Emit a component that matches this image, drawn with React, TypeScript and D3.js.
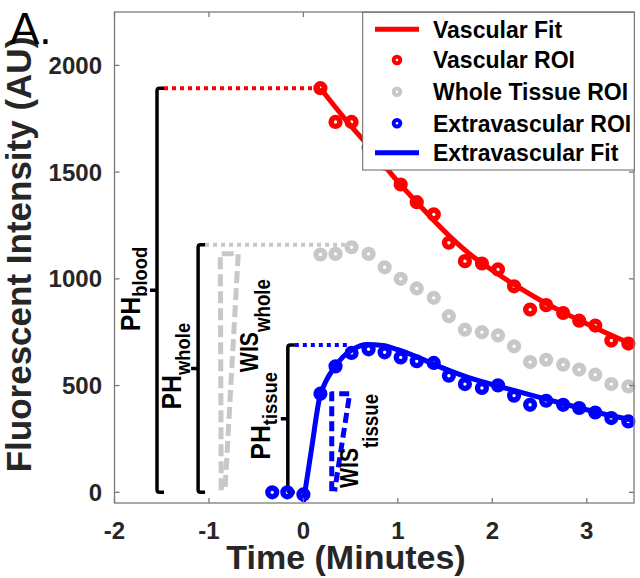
import React from "react";
import * as d3 from "d3";

// Sample times (minutes) shared by the three ROI series
const sampleTimes = [
  -0.33, -0.17, 0.0, 0.18, 0.34, 0.51, 0.69, 0.86, 1.03, 1.2, 1.38, 1.54, 1.71,
  1.89, 2.06, 2.23, 2.4, 2.57, 2.75, 2.92, 3.09, 3.26, 3.44,
];

// Vascular and whole-tissue ROIs start at sampleTimes[3]
const vascularROI = [
  1893, 1735, 1735, 1615, 1540, 1442, 1359, 1302, 1169, 1083, 1072, 1044, 965,
  856, 877, 840, 804, 781, 711, 697,
];
const wholeTissueROI = [
  1114, 1117, 1148, 1117, 1054, 1000, 955, 911, 825, 762, 750, 735, 684, 610,
  621, 598, 575, 551, 507, 496,
];
const extravascularROI = [
  0, 0, -10, 462, 590, 653, 670, 656, 632, 614, 606, 546, 507, 489, 501, 453,
  410, 429, 410, 395, 374, 348, 332,
];

// Fitted curves
const vascularFitTimes = [0.18, 0.42, 0.75, 1.0, 1.25, 1.5, 1.75, 2.0, 2.25, 2.5, 2.75, 3.0, 3.25, 3.5];
const vascularFitValues = [1893, 1760, 1590, 1455, 1335, 1220, 1120, 1040, 968, 902, 843, 790, 738, 690];
const extravascularFitTimes = [
  0, 0.085, 0.17, 0.25, 0.32, 0.42, 0.52, 0.67, 0.84, 1.0, 1.25, 1.5, 1.75, 2.0,
  2.25, 2.5, 2.75, 3.0, 3.25, 3.5,
];
const extravascularFitValues = [
  -45, 200, 440, 530, 580, 635, 668, 692, 688, 668, 625, 578, 537, 505, 475,
  445, 415, 387, 360, 337,
];

// Peak-height brackets (PH): subscript, x position, peak value, end of reference line
const phNames = ["blood", "whole", "tissue"];
const phX = [-1.55, -1.115, -0.165];
const phPeak = [1893, 1160, 690];
const phLineEnd = [0.18, 0.45, 0.49];

// Wash-in slope (WIS) wedges and their label anchors
const wisNames = ["whole", "tissue"];
const wisWedges: [number, number][][] = [
  [[-0.87, 10], [-0.88, 1118], [-0.69, 1118], [-0.83, 10]],
  [[0.3, 5], [0.3, 462], [0.49, 462], [0.33, 5]],
];
const wisLabelAt: [number, number][] = [[-0.483, 563], [0.574, 20]];
const wisSubShift = [12, 20];

const xTicks = [-2, -1, 0, 1, 2, 3];
const yTicks = [0, 500, 1000, 1500, 2000];

const legendItems = [
  { label: "Vascular Fit", kind: "line", color: "#ff0000" },
  { label: "Vascular ROI", kind: "marker", color: "#ff0000" },
  { label: "Whole Tissue ROI", kind: "marker", color: "#c8c8c8" },
  { label: "Extravascular ROI", kind: "marker", color: "#0000ff" },
  { label: "Extravascular Fit", kind: "line", color: "#0000ff" },
];

const FONT = "'Liberation Sans', Arial, Helvetica, sans-serif";
const RED = "#ff0000";
const GRAY = "#c8c8c8";
const BLUE = "#0000ff";
const AXIS = "#262626";

export default function App() {
  const left = 114.5, right = 634, top = 12, bottom = 503;
  const x = d3.scaleLinear().domain([-2, 3.5]).range([left, right]);
  const y = d3.scaleLinear().domain([-50, 2250]).range([bottom, top]);

  const smooth = d3
    .line<[number, number]>()
    .x((d) => x(d[0]))
    .y((d) => y(d[1]))
    .curve(d3.curveMonotoneX);
  const straight = d3
    .line<[number, number]>()
    .x((d) => x(d[0]))
    .y((d) => y(d[1]));

  const vascularFit = vascularFitTimes.map((t, i) => [t, vascularFitValues[i]] as [number, number]);
  const extraFit = extravascularFitTimes.map((t, i) => [t, extravascularFitValues[i]] as [number, number]);

  const markers = (vals: number[], offset: number, color: string) =>
    vals.map((v, i) => (
      <circle
        key={i}
        cx={x(sampleTimes[i + offset])}
        cy={y(v)}
        r={4.4}
        fill="none"
        stroke={color}
        strokeWidth={5.4}
      />
    ));

  const legendX0 = 362.7, legendY0 = 12.3, legendX1 = 634.3, legendY1 = 170;
  const legendRows = [29.3, 60, 91.7, 123.3, 152.7];

  return (
    <svg
      width={640}
      height={578}
      style={{ position: "absolute", left: 0, top: 0, display: "block", background: "#fff" }}
      fontFamily={FONT}
    >
      <defs>
        <clipPath id="plotArea">
          <rect x={left} y={top} width={right - left} height={bottom - top} />
        </clipPath>
      </defs>
      <rect x={0} y={0} width={640} height={578} fill="#fff" />

      {/* peak-height brackets and their reference lines */}
      {phNames.map((name, i) => {
        const bx = x(phX[i]);
        const yt = y(phPeak[i]);
        const yb = y(0);
        const ym = y(phPeak[i] / 2);
        const hook = 7;
        const lineColor = i === 0 ? RED : i === 1 ? GRAY : BLUE;
        return (
          <g key={name}>
            <line
              x1={bx + hook}
              x2={x(phLineEnd[i])}
              y1={yt}
              y2={yt}
              stroke={lineColor}
              strokeWidth={4}
              strokeDasharray="4 4"
            />
            <path
              d={`M${bx + hook},${yt} L${bx + 2.5},${yt} Q${bx},${yt} ${bx},${yt + 2.5} L${bx},${yb - 2.5} Q${bx},${yb} ${bx + 2.5},${yb} L${bx + hook},${yb} M${bx},${ym} L${bx - 7},${ym}`}
              fill="none"
              stroke="#000"
              strokeWidth={3.5}
            />
            <text
              transform={`translate(${bx - 17.5},${ym + 41}) rotate(-90) scale(0.92,1)`}
              fontWeight="bold"
              fill="#000"
            >
              <tspan fontSize={27}>PH</tspan>
              <tspan fontSize={20} dy={i === 1 ? 9 : 7}>
                {name}
              </tspan>
            </text>
          </g>
        );
      })}

      {/* wash-in slope wedges */}
      {wisWedges.map((pts, i) => (
        <path
          key={i}
          d={straight(pts) || ""}
          fill="none"
          stroke={i === 0 ? GRAY : BLUE}
          strokeWidth={5}
          strokeDasharray={i === 0 ? "12 5" : "10 5"}
          strokeLinejoin="round"
        />
      ))}
      {wisNames.map((name, i) => (
        <text
          key={name}
          transform={`translate(${x(wisLabelAt[i][0])},${y(wisLabelAt[i][1])}) rotate(-90) scale(0.85,1)`}
          fontWeight="bold"
          fill="#000"
        >
          <tspan fontSize={25}>WIS</tspan>
          <tspan fontSize={22} dy={wisSubShift[i]}>
            {name}
          </tspan>
        </text>
      ))}

      {/* ROI samples */}
      <g>{markers(vascularROI, 3, RED)}</g>
      <g>{markers(wholeTissueROI, 3, GRAY)}</g>
      <g>{markers(extravascularROI, 0, BLUE)}</g>

      {/* fits */}
      <g clipPath="url(#plotArea)">
        <path d={smooth(vascularFit) || ""} fill="none" stroke={RED} strokeWidth={5} strokeLinejoin="round" />
        <path d={smooth(extraFit) || ""} fill="none" stroke={BLUE} strokeWidth={5} strokeLinejoin="round" />
      </g>

      {/* axes box and ticks */}
      <rect x={left} y={top} width={right - left} height={bottom - top} fill="none" stroke="#7a7a7a" strokeWidth={1.3} />
      {xTicks.map((t) => (
        <g key={`xt${t}`}>
          <line x1={x(t)} x2={x(t)} y1={bottom} y2={bottom - 5} stroke="#7a7a7a" strokeWidth={1.3} />
          <line x1={x(t)} x2={x(t)} y1={top} y2={top + 5} stroke="#7a7a7a" strokeWidth={1.3} />
          <text x={x(t)} y={539} textAnchor="middle" fontSize={24} fontWeight="bold" fill={AXIS}>
            {t}
          </text>
        </g>
      ))}
      {yTicks.map((v) => (
        <g key={`yt${v}`}>
          <line x1={left} x2={left + 5} y1={y(v)} y2={y(v)} stroke="#7a7a7a" strokeWidth={1.3} />
          <line x1={right} x2={right - 5} y1={y(v)} y2={y(v)} stroke="#7a7a7a" strokeWidth={1.3} />
          <text x={102} y={y(v) + 8.5} textAnchor="end" fontSize={24} fontWeight="bold" fill={AXIS}>
            {v}
          </text>
        </g>
      ))}

      {/* legend */}
      <g>
        <rect
          x={legendX0}
          y={legendY0}
          width={legendX1 - legendX0}
          height={legendY1 - legendY0}
          fill="#fff"
          stroke="#666"
          strokeWidth={1}
        />
        {legendItems.map((item, i) => (
          <g key={item.label}>
            {item.kind === "line" ? (
              <line x1={375} x2={419} y1={legendRows[i]} y2={legendRows[i]} stroke={item.color} strokeWidth={5} />
            ) : (
              <circle cx={397} cy={legendRows[i]} r={3.3} fill="none" stroke={item.color} strokeWidth={4} />
            )}
            <text x={433} y={legendRows[i] + 8.2} fontSize={23} fontWeight="bold" fill="#000">
              {item.label}
            </text>
          </g>
        ))}
      </g>

      {/* axis titles */}
      <text x={346} y={569} textAnchor="middle" fontSize={34} fontWeight="bold" fill={AXIS}>
        Time (Minutes)
      </text>
      <text
        transform="translate(31,254.5) rotate(-90)"
        textAnchor="middle"
        fontSize={35}
        fontWeight="bold"
        fill={AXIS}
      >
        Fluorescent Intensity (AU)
      </text>

      {/* panel letter */}
      <text x={10} y={43.5} fontSize={44} fill="#000">
        A.
      </text>
    </svg>
  );
}
